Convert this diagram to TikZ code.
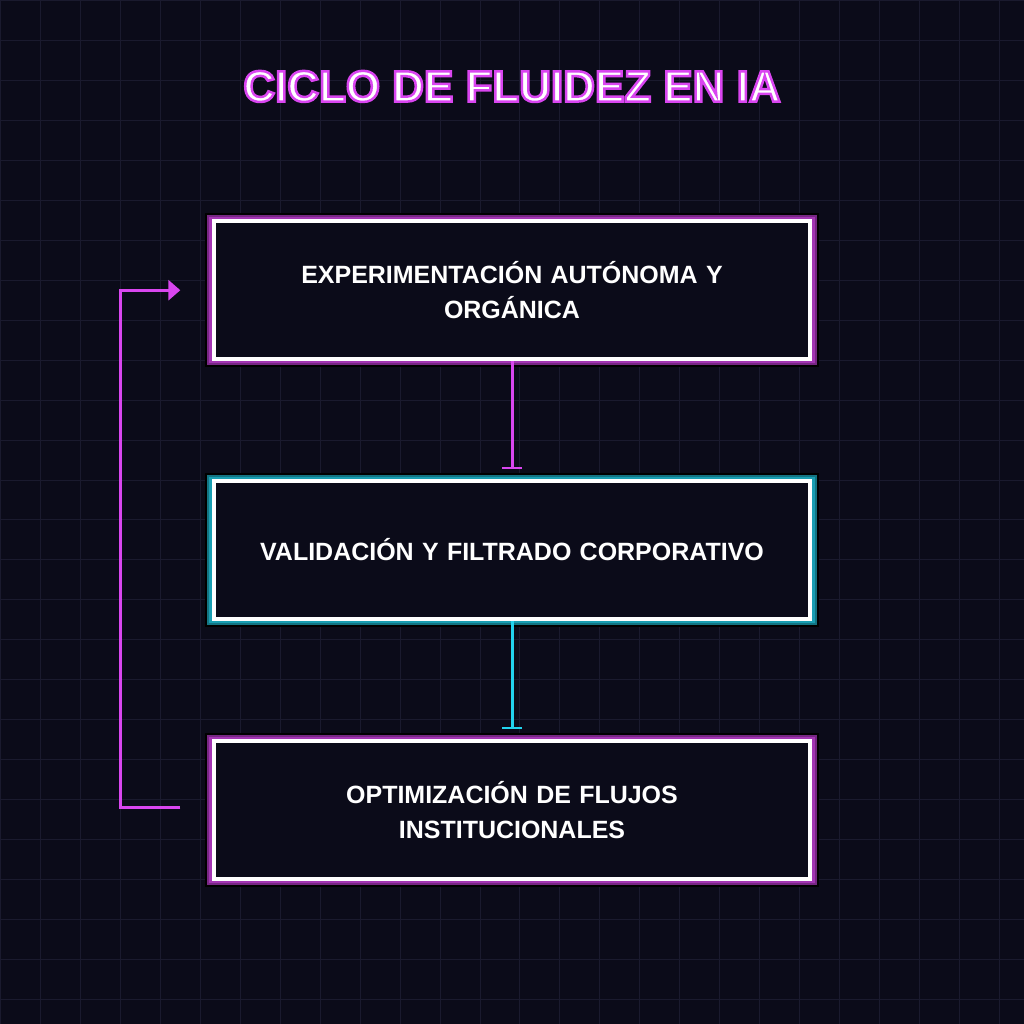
\documentclass[tikz,border=0pt]{standalone}
\usepackage{fontspec}
\setmainfont{Liberation Sans}
\usetikzlibrary{arrows.meta}
\definecolor{bg}{HTML}{0B0B19}
\definecolor{grid}{HTML}{1A1A2E}
\definecolor{mag}{HTML}{D946EF}
\definecolor{cya}{HTML}{22D3EE}
\newcommand{\outlined}[1]{\special{pdf:code q 2 Tr 2.5 w 0.85 0.27 0.94 RG}#1\special{pdf:code Q}}
\begin{document}
\begin{tikzpicture}[x=1pt,y=-1pt,
  box/.style={draw=white,line width=4pt,fill=bg,minimum width=596pt,minimum height=138pt,text width=570pt,align=center,font=\bfseries\fontsize{25}{35}\selectfont,text=white},
  link/.style={line width=3pt}]
\fill[bg] (0,0) rectangle (1024,1024);
\foreach \i in {0,40,...,1000}{\draw[grid,line width=1pt] (\i,0)--(\i,1024); \draw[grid,line width=1pt] (0,\i)--(1024,\i);}
\useasboundingbox (0,0) rectangle (1024,1024);
\node (title)[text=white,font=\bfseries\fontsize{44}{50}\selectfont] at (512,86) {\outlined{CICLO DE FLUIDEZ EN IA}};
\foreach \y/\c in {290/mag,550/cya,810/mag}{
  \fill[black] (205,\y-77) rectangle (819,\y+77);
  \fill[\c!55!black] (207,\y-75) rectangle (817,\y+75);
  \fill[\c!75!black] (209,\y-73) rectangle (815,\y+73);}
\node[box] (a) at (512,290) {EXPERIMENTACIÓN AUTÓNOMA Y\\ORGÁNICA};
\node[box] (b) at (512,550) {VALIDACIÓN Y FILTRADO CORPORATIVO};
\node[box] (c) at (512,810) {OPTIMIZACIÓN DE FLUJOS\\INSTITUCIONALES};
\draw[link,mag,-{Bar[width=20pt,line width=2pt]}] (a.south) -- ++(0,108) coordinate (a1);
\draw[link,cya,-{Bar[width=20pt,line width=2pt]}] (b.south) -- ++(0,108) coordinate (b1);
\coordinate (l1) at (180,808);
\coordinate (l2) at (180,290);
\draw[link,mag,-{Triangle[length=12pt,width=20pt]}] (l1) -| (120,290) -- (l2);
\end{tikzpicture}
\end{document}
